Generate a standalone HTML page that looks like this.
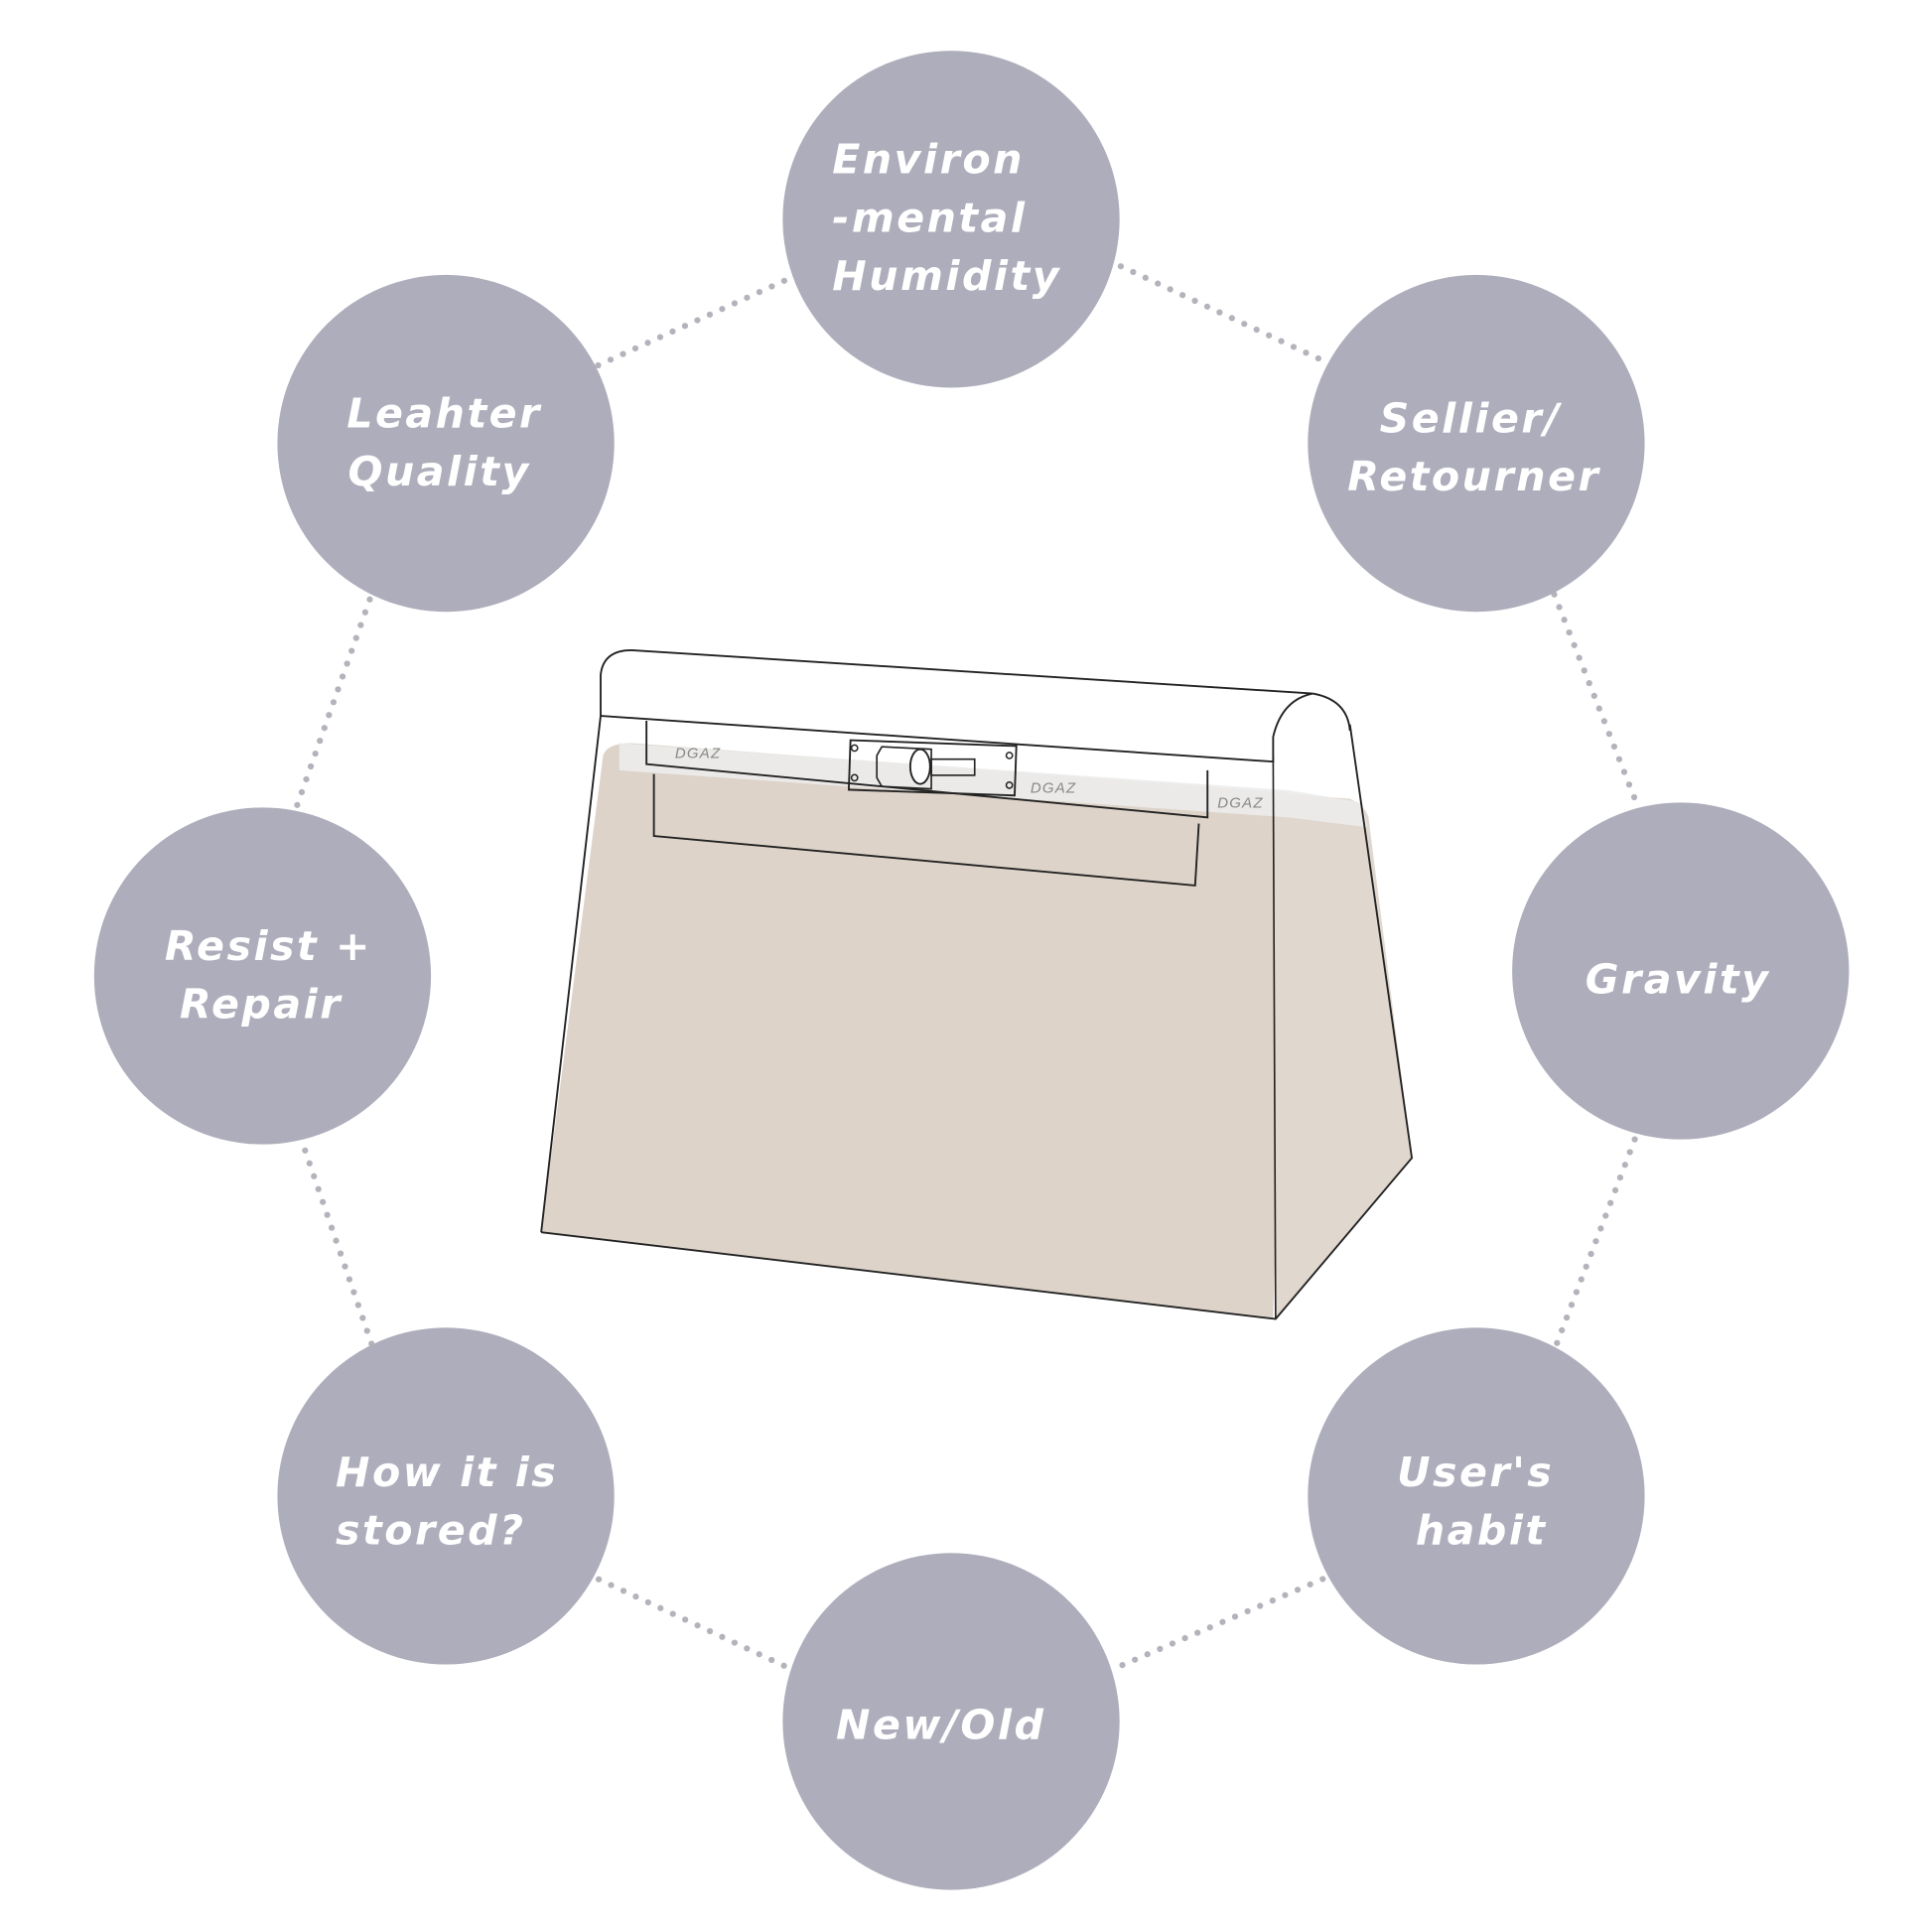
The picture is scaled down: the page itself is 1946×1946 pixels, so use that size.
<!DOCTYPE html>
<html><head><meta charset="utf-8"><style>
html,body{margin:0;padding:0;background:#fff;}
svg{display:block;}
text.l{font-family:"DejaVu Sans","Liberation Sans",sans-serif;font-weight:bold;font-style:italic;fill:#fff;font-size:33px;letter-spacing:2px;}
text.d{font-family:"Liberation Sans",sans-serif;font-style:italic;fill:#888;font-size:12px;letter-spacing:1px;}
</style></head><body>
<svg width="1946" height="1946" viewBox="0 0 1560 1560" xmlns="http://www.w3.org/2000/svg">
<g stroke="#b3b3bb" stroke-width="5" stroke-linecap="round" stroke-dasharray="0 11" fill="none">
<line x1="483" y1="295" x2="637" y2="225"/>
<line x1="905" y1="215" x2="1070" y2="292"/>
<line x1="1255" y1="480" x2="1322" y2="650"/>
<line x1="1320" y1="920" x2="1257" y2="1085"/>
<line x1="1068" y1="1275" x2="905" y2="1345"/>
<line x1="633" y1="1345" x2="483" y2="1275"/>
<line x1="300" y1="1085" x2="245" y2="925"/>
<line x1="240" y1="650" x2="300" y2="480"/>
</g>
<g fill="#aeadbb">
<circle cx="768" cy="177" r="136"/>
<circle cx="360" cy="358" r="136"/>
<circle cx="1192" cy="358" r="136"/>
<circle cx="212" cy="788" r="136"/>
<circle cx="1357" cy="784" r="136"/>
<circle cx="360" cy="1208" r="136"/>
<circle cx="1192" cy="1208" r="136"/>
<circle cx="768" cy="1390" r="136"/>
</g>
<!-- bag body -->
<path d="M437,995 L487,610 Q490,600 510,600 L1040,640 L1028,1065 Z" fill="#ddd3c9"/>
<path d="M1028,640 L1090,645 Q1102,650 1105,660 L1140,935 L1030,1065 Z" fill="#e0d7ce"/>
<path d="M500,600 L1040,638 L1100,648 L1104,668 L1040,660 L500,622 Z" fill="#ececec" opacity="0.9"/>
<path d="M437,995 L1030,1065 L1140,935 L1090,585" fill="none" stroke="#222" stroke-width="1.5"/>
<path d="M437,995 L485,578" fill="none" stroke="#222" stroke-width="1.5"/>
<path d="M1028,610 L1030,1065" fill="none" stroke="#222" stroke-width="1.3"/>
<!-- handle -->
<path d="M485,578 L485,545 Q487,525 510,525 L1060,560 Q1035,565 1028,595 L1028,615 Z" fill="#fff" stroke="#222" stroke-width="1.5"/>
<path d="M1060,560 Q1088,565 1090,590" fill="none" stroke="#222" stroke-width="1.5"/>
<path d="M522,582 L522,617 L975,660 L975,622" fill="none" stroke="#222" stroke-width="1.5"/>
<path d="M528,625 L528,675 L965,715 L968,665" fill="none" stroke="#222" stroke-width="1.5"/>
<!-- clasp -->
<rect x="686" y="600" width="134" height="40" fill="none" stroke="#222" stroke-width="1.5" transform="rotate(2 753 620)"/>
<path d="M712,603 L752,605 L752,637 L712,635 L708,628 L708,610 Z" fill="none" stroke="#222" stroke-width="1.3"/>
<ellipse cx="743" cy="619" rx="8" ry="14" fill="#fff" stroke="#222" stroke-width="1.5"/>
<rect x="752" y="613" width="35" height="13" fill="none" stroke="#222" stroke-width="1.3"/>
<g fill="none" stroke="#222" stroke-width="1.2">
<circle cx="690" cy="604" r="2.5"/><circle cx="690" cy="628" r="2.5"/>
<circle cx="815" cy="610" r="2.5"/><circle cx="815" cy="634" r="2.5"/>
</g>
<text class="d" x="545" y="612">DGAZ</text>
<text class="d" x="832" y="640">DGAZ</text>
<text class="d" x="983" y="652">DGAZ</text>
<text class="l" x="672" y="140">Environ</text>
<text class="l" x="672" y="187">-mental</text>
<text class="l" x="672" y="234">Humidity</text>
<text class="l" x="280" y="345">Leahter</text>
<text class="l" x="281" y="392">Quality</text>
<text class="l" x="1114" y="349">Sellier/</text>
<text class="l" x="1088" y="396">Retourner</text>
<text class="l" x="1280" y="802">Gravity</text>
<text class="l" x="133" y="775">Resist +</text>
<text class="l" x="145" y="822">Repair</text>
<text class="l" x="271" y="1200">How it is</text>
<text class="l" x="271" y="1247">stored?</text>
<text class="l" x="1128" y="1200">User's</text>
<text class="l" x="1143" y="1247">habit</text>
<text class="l" x="675" y="1404">New/Old</text>
</svg>
</body></html>
